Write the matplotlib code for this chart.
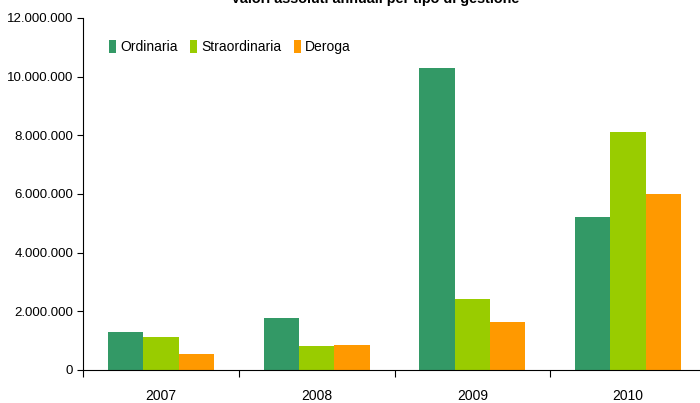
import numpy as np
import matplotlib.pyplot as plt
from matplotlib.ticker import FuncFormatter, FixedLocator

years = ['2007', '2008', '2009', '2010']
ordinaria = [1295000, 1770000, 10290000, 5220000]
straordinaria = [1125000, 820000, 2420000, 8110000]
deroga = [545000, 850000, 1640000, 6000000]

series = [('Ordinaria', ordinaria, '#339966'),
          ('Straordinaria', straordinaria, '#99cc00'),
          ('Deroga', deroga, '#ff9900')]

plt.rcParams['font.family'] = ['Liberation Sans', 'DejaVu Sans']

fig = plt.figure(figsize=(7, 4.03), dpi=100)
ax = fig.add_axes([83 / 700, 1 - 370 / 403, 623 / 700, 352 / 403])

x = np.arange(len(years))
w = 0.227
for i, (name, vals, col) in enumerate(series):
    ax.bar(x + (i - 1) * w, vals, width=w, color=col, label=name, zorder=2)

ax.set_xlim(-0.5, len(years) - 0.5)
ax.set_ylim(0, 12000000)
ax.set_yticks(np.arange(0, 12000001, 2000000))
ax.yaxis.set_major_formatter(FuncFormatter(lambda v, p: f'{int(v):,}'.replace(',', '.')))

# boundaries between years get the tick marks, labels sit in the middle
ax.xaxis.set_major_locator(FixedLocator(np.arange(-0.5, len(years), 1.0)))
ax.xaxis.set_minor_locator(FixedLocator(x))
ax.set_xticklabels([''] * (len(years) + 1))
ax.set_xticklabels(years, minor=True)
ax.tick_params(axis='x', which='major', length=5, direction='out', width=0.8)
ax.tick_params(axis='x', which='minor', length=0, pad=14, labelsize=10)
ax.tick_params(axis='y', length=4, width=0.8, labelsize=9.5, pad=3)

for s in ['top', 'right']:
    ax.spines[s].set_visible(False)
ax.spines['left'].set_linewidth(0.8)
ax.spines['bottom'].set_linewidth(0.8)

ax.legend(loc='center left', bbox_to_anchor=(0.033, 0.917), ncol=3, frameon=False,
          fontsize=10, handlelength=0.5, handleheight=1.0, handletextpad=0.3,
          columnspacing=0.9, borderaxespad=0)

fig.text(375 / 700, 1 - 6 / 403, 'Valori assoluti annuali per tipo di gestione',
         ha='center', va='bottom', fontsize=10.4, fontweight='bold')

fig.savefig('out.png', dpi=100)
